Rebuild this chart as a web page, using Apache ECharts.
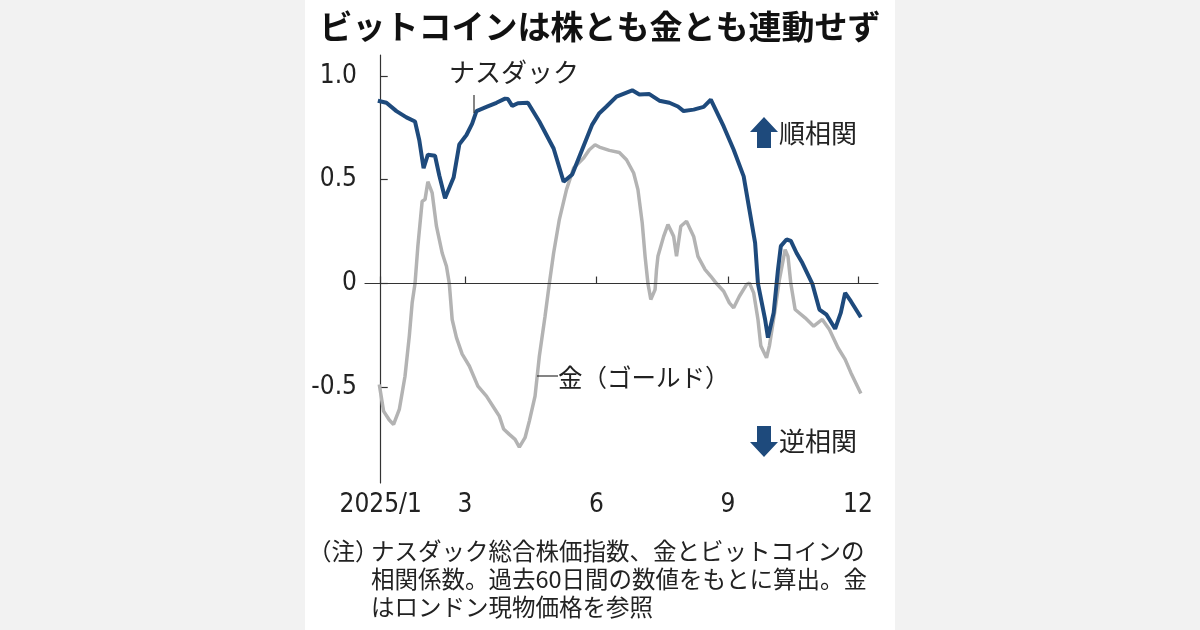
<!DOCTYPE html>
<html>
<head>
<meta charset="utf-8">
<script src="https://cdn.jsdelivr.net/npm/echarts@6/dist/echarts.min.js"></script>
<style>
  html, body { margin: 0; padding: 0; background: #f2f2f2; }
  #chart { width: 1200px; height: 630px; }
</style>
</head>
<body>
<div id="chart"></div>
<script>
// 日数は2025年1月1日からの経過日数
const tickDays = [0, 59, 151, 243, 334];
const tickLabels = ['2025/1', '3', '6', '9', '12'];
const yTicks = [-0.5, 0, 0.5, 1.0];

// ナスダックとビットコインの相関係数
const nasdaq = [
    [-2, 0.88], [4, 0.87], [11, 0.83], [18, 0.80], [24, 0.78], [27, 0.69], [30, 0.555],
    [33, 0.62], [38, 0.615], [41, 0.52], [45, 0.41], [51, 0.51], [55, 0.67], [60, 0.715],
    [64, 0.77], [67, 0.83], [74, 0.85], [81, 0.87], [87, 0.89], [89, 0.888], [92, 0.855],
    [96, 0.868], [103, 0.87], [111, 0.78], [121, 0.65], [128, 0.49], [134, 0.525],
    [141, 0.645], [148, 0.765], [153, 0.82], [158, 0.852], [165, 0.90], [176, 0.93],
    [181, 0.91], [188, 0.912], [195, 0.88], [202, 0.87], [208, 0.852], [212, 0.83],
    [219, 0.837], [226, 0.85], [231, 0.885], [240, 0.756], [247, 0.644], [254, 0.516],
    [258, 0.356], [262, 0.196], [264, 0.0], [269, -0.173], [271, -0.26], [275, -0.14],
    [278, 0.067], [280, 0.18], [284, 0.212], [287, 0.205], [291, 0.147], [295, 0.10],
    [302, 0.0], [307, -0.125], [312, -0.15], [318, -0.218], [322, -0.14], [325, -0.045],
    [329, -0.085], [336, -0.162]
];

// 金とビットコインの相関係数
const gold = [
    [-1, -0.486], [2, -0.614], [6, -0.657], [9, -0.678], [13, -0.606], [17, -0.446],
    [20, -0.253], [22, -0.093], [24, 0.0], [26, 0.18], [29, 0.396], [31, 0.404],
    [33, 0.49], [36, 0.436], [39, 0.276], [43, 0.147], [46, 0.083], [48, 0.0],
    [50, -0.173], [53, -0.26], [57, -0.34], [62, -0.397], [68, -0.494], [74, -0.542],
    [80, -0.606], [83, -0.638], [86, -0.70], [90, -0.726], [94, -0.75], [97, -0.787],
    [101, -0.742], [104, -0.662], [108, -0.542], [111, -0.35], [115, -0.157], [118, 0.0],
    [121, 0.147], [125, 0.308], [130, 0.452], [135, 0.556], [142, 0.604], [146, 0.644],
    [150, 0.668], [153, 0.657], [160, 0.641], [167, 0.631], [172, 0.596], [177, 0.532],
    [180, 0.452], [183, 0.292], [185, 0.131], [187, 0.0], [189, -0.077], [192, -0.029],
    [193, 0.067], [194, 0.131], [198, 0.227], [201, 0.284], [205, 0.227], [207, 0.131],
    [210, 0.276], [214, 0.30], [219, 0.227], [222, 0.131], [227, 0.067], [231, 0.035],
    [235, 0.0], [240, -0.037], [244, -0.093], [247, -0.117], [251, -0.061], [256, -0.005],
    [258, 0.003], [261, -0.045], [264, -0.173], [266, -0.30], [270, -0.357], [272, -0.30],
    [276, -0.125], [279, 0.019], [283, 0.163], [285, 0.131], [287, 0.0], [290, -0.125],
    [297, -0.165], [303, -0.205], [309, -0.173], [314, -0.221], [320, -0.309],
    [325, -0.365], [329, -0.429], [336, -0.529]
];

const BLUE = '#1e4a7c';
const GRAY = '#b3b3b3';
const INK = '#222';
const NUM_FONT = '"Liberation Sans Narrow", "DejaVu Sans Condensed", "Roboto", sans-serif';
const JP_FONT = '"Noto Sans CJK JP", sans-serif';

let myChart = echarts.init(document.getElementById('chart'));

// 注記テキスト（x, y は左端・縦中央）
function label(text, x, y, size, weight) {
    return {
        type: 'text', x: x, y: y, silent: true, z: 10,
        style: {
            text: text, fill: INK, font: (weight || 'normal') + ' ' + size + 'px ' + JP_FONT,
            textAlign: 'left', textVerticalAlign: 'middle'
        }
    };
}

let option = {
    animation: false,
    grid: { left: 365, right: 322, top: 55, bottom: 147 },
    xAxis: {
        type: 'value',
        min: -11,
        max: 348,
        splitLine: { show: false },
        axisLine: { lineStyle: { color: '#333', width: 1.2 } },
        axisTick: {
            inside: true, length: 7, customValues: tickDays,
            lineStyle: { color: '#333', width: 1.2 }
        },
        axisLabel: {
            customValues: tickDays,
            formatter: function (v) { return tickLabels[tickDays.indexOf(v)]; },
            color: INK, fontSize: 26, fontFamily: NUM_FONT, margin: 9
        }
    },
    yAxis: {
        type: 'value',
        min: -0.96,
        max: 1.1,
        splitLine: { show: false },
        axisLine: { show: true, lineStyle: { color: '#333', width: 1.2 } },
        axisTick: {
            show: true, inside: true, length: 7, customValues: yTicks,
            lineStyle: { color: '#333', width: 1.2 }
        },
        axisLabel: {
            customValues: yTicks,
            formatter: function (v) { return v === 0 ? '0' : v.toFixed(1); },
            color: INK, fontSize: 26, fontFamily: NUM_FONT, margin: 8
        }
    },
    series: [{
        name: '金',
        type: 'line',
        data: gold,
        showSymbol: false,
        z: 2,
        lineStyle: { color: GRAY, width: 3.5 },
        markLine: {
            silent: true,
            symbol: 'none',
            label: { show: false },
            lineStyle: { color: '#333', width: 1.2, type: 'solid' },
            data: [{ yAxis: 0 }]
        }
    }, {
        name: 'ナスダック',
        type: 'line',
        data: nasdaq,
        showSymbol: false,
        z: 3,
        lineStyle: { color: BLUE, width: 4 }
    }],
    graphic: [
        {
            type: 'rect', silent: true, z: -10,
            shape: { x: 305, y: 0, width: 590, height: 630 },
            style: { fill: '#ffffff' }
        },
        {
            type: 'text', x: 600, y: 26, silent: true, z: 10,
            style: {
                text: 'ビットコインは株とも金とも連動せず', fill: '#111',
                font: 'bold 33px ' + JP_FONT, textAlign: 'center', textVerticalAlign: 'middle'
            }
        },
        label('ナスダック', 449, 72, 26),
        {
            type: 'line', silent: true, z: 10,
            shape: { x1: 474, y1: 95, x2: 474, y2: 113 },
            style: { stroke: '#333', lineWidth: 1.2 }
        },
        label('金（ゴールド）', 558, 378, 24.5),
        {
            type: 'line', silent: true, z: 10,
            shape: { x1: 537, y1: 376, x2: 558, y2: 376 },
            style: { stroke: '#333', lineWidth: 1.2 }
        },
        {
            type: 'polygon', silent: true, z: 10,
            shape: { points: [[764, 117], [778, 132], [771, 132], [771, 148], [757, 148], [757, 132], [750, 132]] },
            style: { fill: BLUE }
        },
        label('順相関', 779, 133, 26),
        {
            type: 'polygon', silent: true, z: 10,
            shape: { points: [[764, 457], [778, 442], [771, 442], [771, 426], [757, 426], [757, 442], [750, 442]] },
            style: { fill: BLUE }
        },
        label('逆相関', 779, 441, 26),
        label('（注）', 308, 551, 23.5),
        label('ナスダック総合株価指数、金とビットコインの', 371, 551, 23.5),
        label('相関係数。過去60日間の数値をもとに算出。金', 371, 579, 23.5),
        label('はロンドン現物価格を参照', 371, 607, 23.5)
    ]
};

myChart.setOption(option);
window.addEventListener('resize', function () {
    myChart.resize();
});
</script>
</body>
</html>
